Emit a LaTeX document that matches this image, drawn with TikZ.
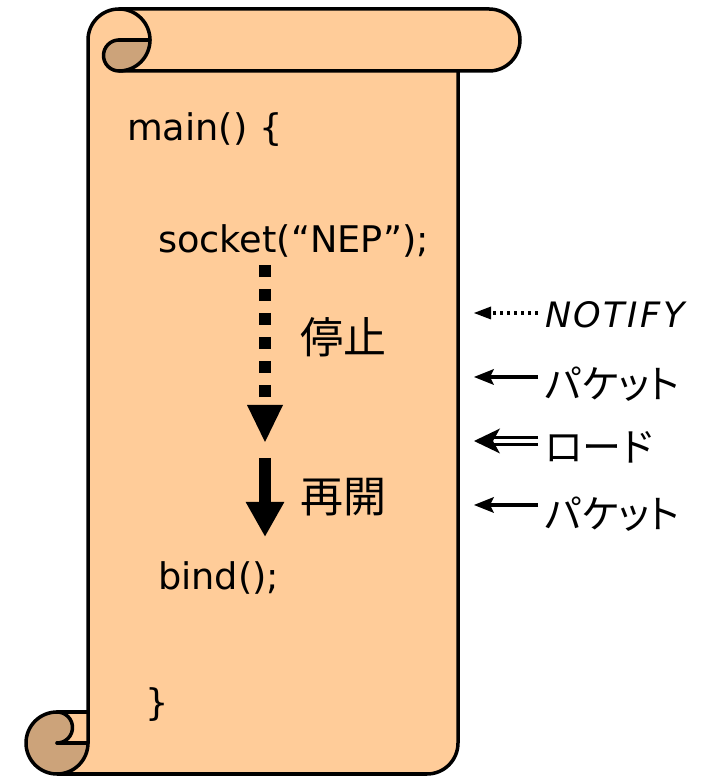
\documentclass[tikz,border=0pt]{standalone}
\usepackage{fontspec}
\setmainfont{DejaVu Sans}
\newfontfamily\jpfont[RawFeature=+palt]{Noto Sans CJK JP}
\newfontfamily\tagfont[LetterSpace=7]{DejaVu Sans}
\usetikzlibrary{arrows.meta}
\definecolor{scrollfill}{HTML}{FFCC99}
\definecolor{curlfill}{HTML}{CCA37A}

\begin{document}
\begin{tikzpicture}[x=1pt,y=1pt,
  outline/.style={line width=3.5pt, line join=round, line cap=round},
  code/.style={anchor=base west, inner sep=0pt, font=\fontsize{36.7}{44}\selectfont},
  flowlabel/.style={inner sep=0pt, font=\jpfont\fontsize{43}{50}\selectfont},
  sidelabel/.style={anchor=base west, inner sep=0pt, font=\jpfont\fontsize{39}{46}\selectfont},
  shaft/.style={line width=3.5pt},
  ]
\useasboundingbox (0,0) rectangle (707,776);

% ---- scroll: fills ----
% body sheet
\fill[scrollfill] (88,736) -- (458,736) -- (458,33)
  arc[start angle=0,end angle=-90,radius=31] -- (57,2) -- (57,64) -- (88,64) -- cycle;
% bottom curl
\fill[curlfill] (57,33) circle[radius=31];
\fill[scrollfill] (57,33) rectangle (88,64);
\fill[curlfill] (57,64) arc[start angle=90,end angle=-90,radius=15.5] -- cycle;
% top roll
\fill[scrollfill] (119,705) -- (489,705) arc[start angle=-90,end angle=90,radius=31]
  -- (119,767) arc[start angle=90,end angle=270,radius=31] -- cycle;
\fill[curlfill] (119,736) -- (150,736) arc[start angle=0,end angle=-90,radius=31]
  -- (119,705) arc[start angle=270,end angle=90,radius=15.5] -- cycle;

% ---- scroll: outlines ----
\draw[outline] (88,33) -- (88,736) arc[start angle=180,end angle=90,radius=31]
  -- (489,767) arc[start angle=90,end angle=-90,radius=31] -- (119,705);
\draw[outline] (119,767) arc[start angle=90,end angle=-90,radius=31];
\draw[outline] (119,736) -- (150,736);
\draw[outline] (119,705) arc[start angle=270,end angle=90,radius=15.5];
\draw[outline] (458,705) -- (458,33) arc[start angle=0,end angle=-90,radius=31] -- (57,2);
\draw[outline] (57,64) arc[start angle=90,end angle=360,radius=31];
\draw[outline] (57,64) -- (88,64);
\draw[outline] (57,33) -- (88,33);
\draw[outline] (57,64) arc[start angle=90,end angle=-90,radius=15.5];

% ---- program text ----
\node[code] (main) at (127,635) {main() \{};
\node[code] (sock) at (158,523) {socket(“NEP”);};
\node[code] (bind) at (158,186) {bind();};
\node[code] (close) at (145,60) {\}};

% ---- execution flow ----
\coordinate (stopTop) at (265,511);
\coordinate (stopEnd) at (265,379);
\coordinate (resTop) at (265,318);
\coordinate (resTip) at (265,239);
\draw[line width=12pt, dash pattern=on 12.5pt off 11.5pt] (stopTop) -- (stopEnd);
\fill (247,371) -- (283,371) -- (265,334) -- cycle;
\draw[line width=12pt, -{Triangle[length=35pt,width=36pt]}] (resTop) -- (resTip);
\node[flowlabel] (stop) at (343,439) {停止};
\node[flowlabel] (resume) at (343,279) {再開};

% ---- incoming events ----
\node[anchor=base west, inner sep=0pt, font=\tagfont\itshape\fontsize{35}{42}\selectfont]
  (notify) at (545,448) {NOTIFY};
\node[sidelabel] (pkt1) at (545,377.5) {パケット};
\node[sidelabel] (load) at (545,314.5) {ロード};
\node[sidelabel] (pkt2) at (545,247.5) {パケット};

\coordinate (nTail) at (538,463);
\coordinate (nHead) at (474,463);
\coordinate (p1Tail) at (538,399);
\coordinate (p1Head) at (474,399);
\coordinate (lTail) at (538,335);
\coordinate (lHead) at (474,335);
\coordinate (p2Tail) at (538,271);
\coordinate (p2Head) at (474,271);

% dotted event arrow
\draw[shaft, dash pattern=on 3.5pt off 3.5pt] (nTail) -- ([xshift=16pt]nHead);
\fill (nHead) -- ([xshift=17pt,yshift=6.5pt]nHead) -- ([xshift=17pt,yshift=-6.5pt]nHead) -- cycle;
% packet arrows
\draw[shaft] (p1Tail) -- ([xshift=15pt]p1Head);
\fill (p1Head) -- ([xshift=20pt,yshift=8pt]p1Head) -- ([xshift=16pt]p1Head)
  -- ([xshift=20pt,yshift=-8pt]p1Head) -- cycle;
\draw[shaft] (p2Tail) -- ([xshift=15pt]p2Head);
\fill (p2Head) -- ([xshift=20pt,yshift=8pt]p2Head) -- ([xshift=16pt]p2Head)
  -- ([xshift=20pt,yshift=-8pt]p2Head) -- cycle;
% double-lined arrow
\draw[line width=2.5pt] ([yshift=3.5pt]lTail) -- ([xshift=20pt,yshift=3.5pt]lHead);
\draw[line width=2.5pt] ([yshift=-3.5pt]lTail) -- ([xshift=20pt,yshift=-3.5pt]lHead);
\fill (lHead) -- ([xshift=26pt,yshift=12.5pt]lHead) -- ([xshift=19pt]lHead)
  -- ([xshift=26pt,yshift=-12.5pt]lHead) -- cycle;
\end{tikzpicture}
\end{document}
